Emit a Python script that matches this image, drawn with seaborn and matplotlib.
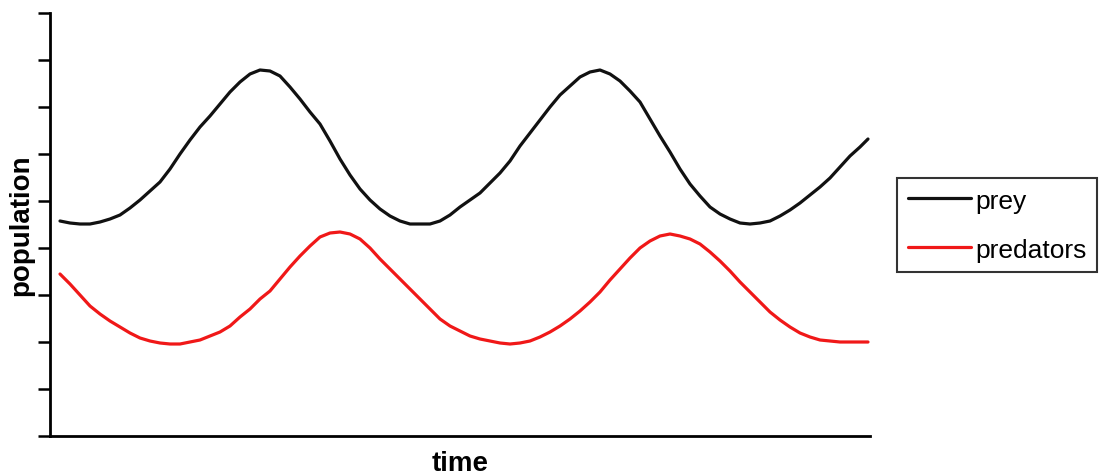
import matplotlib
matplotlib.use("Agg")
import matplotlib.pyplot as plt
import seaborn as sns
import numpy as np
import pandas as pd

# values (arbitrary units)
time = list(range(1, 82)) + [81.8]
prey = [215, 213, 212, 212, 214, 217, 221, 228, 236, 245,
        254, 267, 282, 296, 309, 320, 332, 344, 354, 362,
        366, 365, 360, 349, 337, 324, 312, 295, 277, 261,
        247, 236, 227, 220, 215, 212, 212, 212, 215, 221,
        229, 236, 243, 253, 263, 275, 290, 303, 316, 329,
        341, 350, 359, 364, 366, 362, 355, 345, 334, 317,
        300, 284, 267, 252, 240, 229, 222, 217, 213, 212,
        213, 215, 220, 226, 233, 241, 249, 258, 269, 280,
        289, 297]
predators = [162, 152, 141, 130, 122, 115, 109, 103, 98, 95,
             93, 92, 92, 94, 96, 100, 104, 110, 119, 127,
             137, 145, 157, 169, 180, 190, 199, 203, 204, 202,
             197, 188, 177, 167, 157, 147, 137, 127, 117, 110,
             105, 100, 97, 95, 93, 92, 93, 95, 99, 104,
             110, 117, 125, 134, 144, 156, 167, 178, 188, 195,
             200, 202, 200, 197, 192, 184, 175, 165, 154, 144,
             134, 124, 116, 109, 103, 99, 96, 95, 94, 94,
             94, 94]

df = pd.DataFrame({"time": time, "prey": prey, "predators": predators})

sns.set_style("ticks")
plt.rcParams["font.family"] = ["Liberation Sans", "DejaVu Sans"]
plt.rcParams["text.color"] = "black"
plt.rcParams["axes.labelcolor"] = "black"

fig = plt.figure(figsize=(10.99, 4.77), dpi=100)
ax = fig.add_axes([50 / 1099, 40 / 477, 820 / 1099, 423 / 477])

line_kw = dict(lw=2.3, solid_joinstyle="round", solid_capstyle="round")
sns.lineplot(data=df, x="time", y="prey", ax=ax, color="#111111", label="prey", **line_kw)
sns.lineplot(data=df, x="time", y="predators", ax=ax, color="#f01818",
             label="predators", **line_kw)

ax.set_xlim(0, 82)
ax.set_ylim(0, 423)
ax.set_xticks([])
ax.set_yticks(np.arange(0, 424, 47))
ax.set_yticklabels([])
ax.tick_params(axis="y", direction="out", length=9, width=1.8, color="black")
for side in ["top", "right"]:
    ax.spines[side].set_visible(False)
for side in ["left", "bottom"]:
    ax.spines[side].set_linewidth(2)
    ax.spines[side].set_color("black")

ax.set_xlabel("time", fontsize=20, fontweight="bold", labelpad=10)
ax.set_ylabel("population", fontsize=20, fontweight="bold")
ax.yaxis.set_label_coords(-0.019, 0.5)

ax.get_legend().remove()
handles, labels = ax.get_legend_handles_labels()
leg = fig.legend(handles, labels, loc="upper left",
                 bbox_to_anchor=(897 / 1099, 1 - 179 / 477), borderaxespad=0,
                 fontsize=19, frameon=True, fancybox=False, handlelength=2.4,
                 handletextpad=0.15, borderpad=0.4, labelspacing=0.95)
leg.get_frame().set_edgecolor("black")
leg.get_frame().set_linewidth(1.5)

fig.savefig("out.png", dpi=100)
